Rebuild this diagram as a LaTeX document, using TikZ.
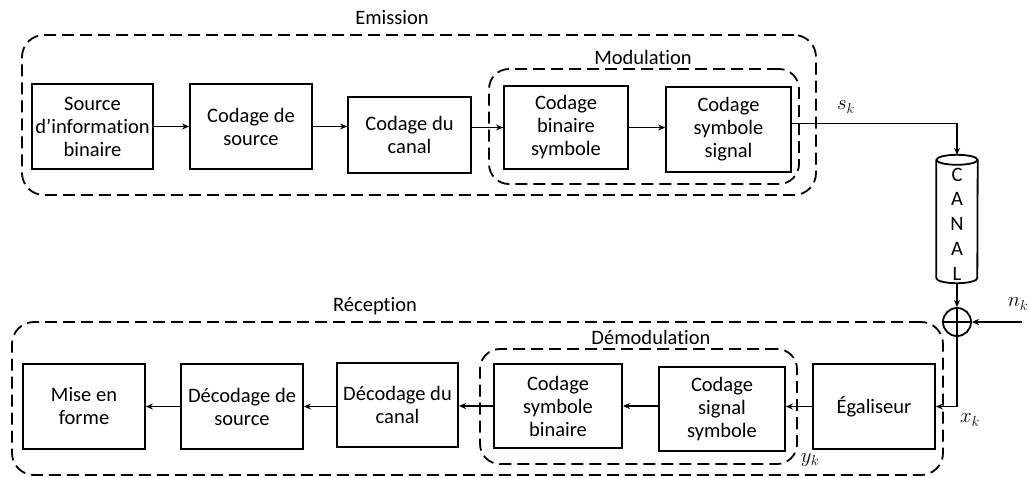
\documentclass[tikz,border=0pt]{standalone}
\usepackage{fontspec}
\setmainfont{Carlito}[Ligatures={NoCommon,NoRare,NoContextual}]
\usetikzlibrary{arrows.meta,calc}
\tikzset{
  txt/.style={font=\fontsize{20.5}{23}\selectfont},
  blk/.style={txt, draw, line width=1.8pt, inner sep=0pt, align=center},
  grp/.style={draw, line width=1.8pt, dash pattern=on 12pt off 6pt, rounded corners=22pt, inner sep=0pt},
  lbl/.style={txt, inner sep=0pt},
  arr/.style={line width=1.5pt, -{Stealth[length=7pt,width=6pt]}},
  wire/.style={line width=1.5pt},
}
\begin{document}
\begin{tikzpicture}[x=1pt,y=-1pt]
\useasboundingbox (0,0) rectangle (1030,477);

% group frames
\node[grp, minimum width=794pt, minimum height=160pt] (em) at (419,115) {};
\node[grp, rounded corners=20pt, minimum width=310pt, minimum height=115pt] (mod) at (644,126.5) {};
\node[grp, minimum width=931pt, minimum height=153pt] (rec) at (477.5,398.5) {};
\node[grp, rounded corners=20pt, minimum width=317pt, minimum height=115pt] (dem) at (638.5,406.5) {};

\node[lbl] (lem) at (392,18) {Emission};
\node[lbl] (lmod) at (643,57) {Modulation};
\node[lbl] (lrec) at (375,306) {Réception};
\node[lbl] (ldem) at (651,337) {Démodulation};

% row 1
\node[blk, minimum width=121pt, minimum height=85pt] (src) at (92.5,126.5) {Source\\d’information\\binaire};
\node[blk, minimum width=122pt, minimum height=85pt] (csrc) at (251,126.5) {Codage de\\source};
\node[blk, minimum width=123pt, minimum height=76pt] (ccan) at (409.5,135) {Codage du\\canal};
\node[blk, minimum width=124pt, minimum height=83pt] (cbs) at (566,127.5) {Codage\\binaire\\symbole};
\node[blk, minimum width=125pt, minimum height=85pt] (css) at (728.5,129.5) {Codage\\symbole\\signal};

% row 2
\node[blk, minimum width=122pt, minimum height=85pt] (mef) at (84,406.5) {Mise en\\forme};
\node[blk, minimum width=122pt, minimum height=85pt] (dsrc) at (242,406.5) {Décodage de\\source};
\node[blk, minimum width=121pt, minimum height=84pt] (dcan) at (397.5,405) {Décodage du\\canal};
\node[blk, minimum width=128pt, minimum height=84pt] (csb) at (558,406) {Codage\\symbole\\binaire};
\node[blk, minimum width=126pt, minimum height=84pt] (csig) at (722,409) {Codage\\signal\\symbole};
\node[blk, minimum width=122pt, minimum height=85pt] (egal) at (874,406.5) {Égaliseur};

% channel
\node[txt, minimum width=41pt, minimum height=118pt, inner sep=0pt, align=center,
      font=\fontsize{20.5}{24.7}\selectfont] (canal) at (957,224) {C\\A\\N\\A\\L};
\draw[line width=1.8pt] ([yshift=5pt]canal.north west) -- ([yshift=5pt]canal.south west)
   arc[start angle=180, end angle=360, x radius=20.5pt, y radius=5pt] -- ([yshift=5pt]canal.north east);
\draw[line width=1.8pt] ([yshift=5pt]canal.north) ellipse [x radius=20.5pt, y radius=5pt];

% adder
\node[draw, circle, line width=1.8pt, minimum size=28pt, inner sep=0pt] (sum) at (957,322) {};
\draw[wire] (sum.north) -- (sum.south) (sum.west) -- (sum.east);
\coordinate (nin) at (1022,322);

% connectors row 1
\draw[arr] (src.east) -- (csrc.west);
\draw[arr] (csrc.east) -- (csrc.east -| ccan.west);
\draw[arr] (ccan.east |- cbs.west) -- (cbs.west);
\draw[arr] (cbs.east) -- (cbs.east -| css.west);
\draw[arr] ([yshift=6pt]css.east) -| ([yshift=10pt]canal.north);

% channel / noise
\draw[arr] (canal.south) -- (sum.north);
\draw[arr] (nin) -- (sum.east);
\draw[arr] (sum.south) |- (egal.east);

% connectors row 2
\draw[arr] (egal.west) -- (egal.west -| csig.east);
\draw[arr] (csig.west |- csb.east) -- (csb.east);
\draw[arr] (csb.west) -- (csb.west -| dcan.east);
\draw[arr] (dcan.west |- dsrc.east) -- (dsrc.east);
\draw[arr] (dsrc.west) -- (mef.east);

% signal labels
\node[lbl] (sk) at (846,107) {$s_k$};
\node[lbl] (nk) at (1018,304) {$n_k$};
\node[lbl] (xk) at (970,420) {$x_k$};
\node[lbl] (yk) at (810,460) {$y_k$};
\end{tikzpicture}
\end{document}
